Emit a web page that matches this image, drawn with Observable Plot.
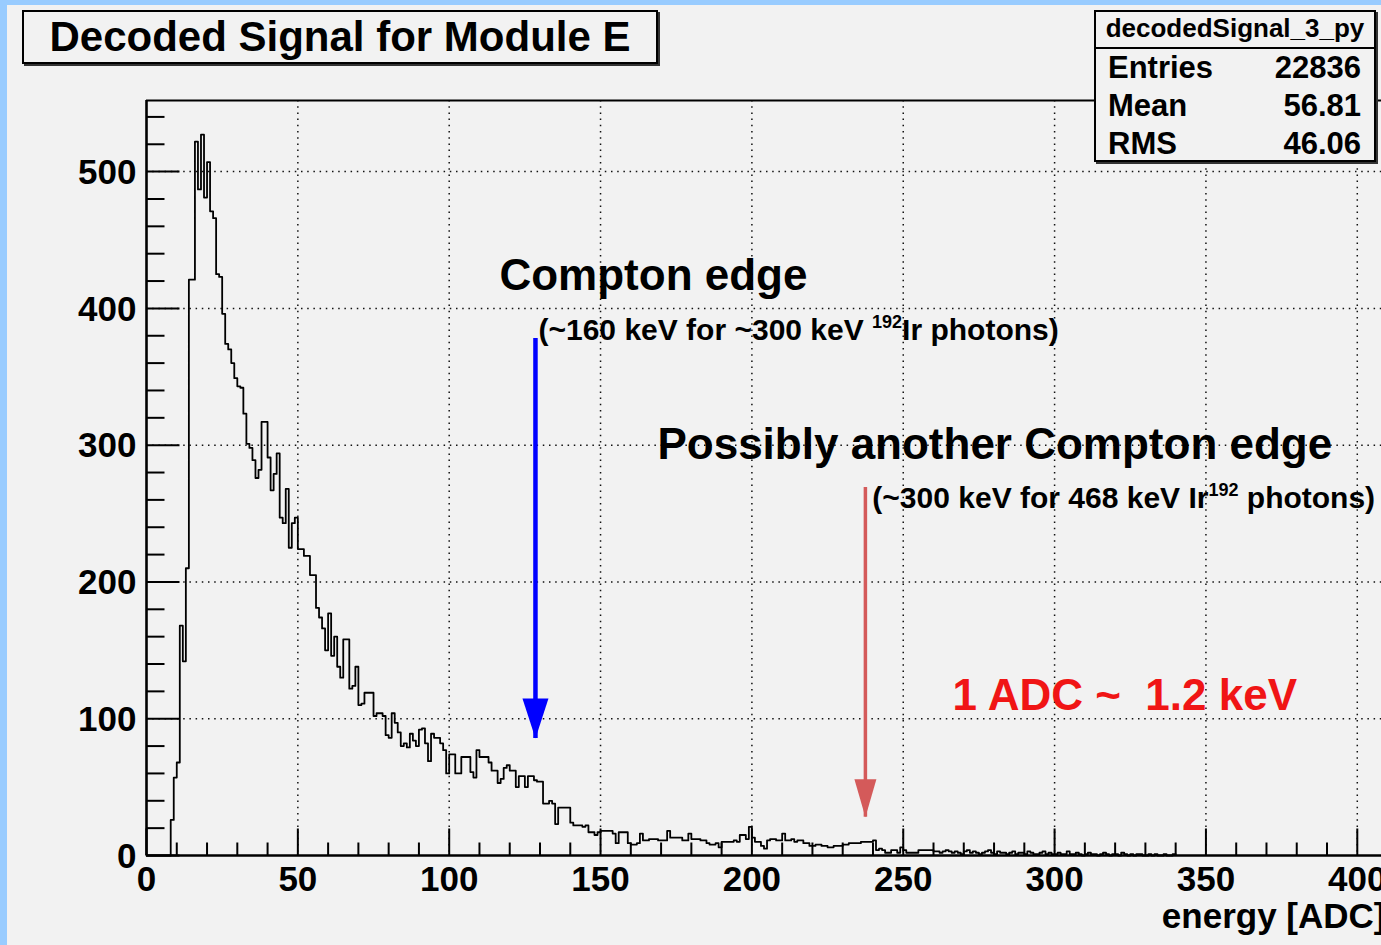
<!DOCTYPE html>
<html>
<head>
<meta charset="utf-8">
<script src="https://cdn.jsdelivr.net/npm/d3@7"></script>
<script src="https://cdn.jsdelivr.net/npm/@observablehq/plot@0.6"></script>
<style>
html, body { margin: 0; padding: 0; width: 1381px; height: 945px; overflow: hidden; background: #99ccff; }
#canvas { position: absolute; left: 7px; top: 5px; right: 0; bottom: 0; background: #f2f2f2; }
#chart { position: absolute; left: 0; top: 0; }
.box { position: absolute; border: 2px solid #000; background: #f2f2f2; box-shadow: 2px 2px 0 #333;
  font-family: "Liberation Sans", Arial, Helvetica, sans-serif; font-weight: bold; color: #000; box-sizing: border-box; }
#title { left: 22px; top: 10px; width: 636px; height: 54px; font-size: 42px; line-height: 49px; text-align: center; }
#stats { left: 1094px; top: 10px; width: 282px; height: 152px; }
#stats .hdr { height: 35px; line-height: 33px; border-bottom: 2px solid #000; font-size: 26px; text-align: center; }
#stats .row { height: 38px; line-height: 38px; font-size: 31px; display: flex; justify-content: space-between; padding: 0 13px 0 12px; }
</style>
</head>
<body>
<div id="canvas"></div>
<div id="chart"></div>
<div id="title" class="box"></div>
<div id="stats" class="box"></div>
<script>
// ---------------- data ----------------
const histTitle = "Decoded Signal for Module E";
const histName = "decodedSignal_3_py";
const statLabels = ["Entries", "Mean", "RMS"];
const statValues = ["22836", "56.81", "46.06"];
const xTitle = "energy [ADC]";

// counts per 1-ADC bin, starting at bin 0
const counts = [
  0,0,0,0,0,0,0,0,
  26,57,68,168,142,210,421,421,522,487,
  527,481,507,471,466,425,423,396,374,370,
  360,349,343,342,323,301,298,289,276,282,
  317,317,291,267,279,294,247,243,268,225,
  243,247,224,224,219,219,205,205,181,174,
  166,150,177,146,160,138,130,158,158,122,
  124,138,110,111,119,119,119,102,104,104,
  102,88,86,104,97,90,80,82,79,89,
  84,80,92,93,82,69,89,86,86,82,
  77,60,74,74,60,60,72,72,72,61,
  57,77,72,72,72,68,62,62,53,56,
  64,66,62,62,50,58,58,50,58,58,
  55,54,54,38,38,40,38,23,35,35,
  35,35,24,22,22,22,21,22,17,17,
  15,17,18,18,18,18,16,9,17,17,
  17,9,8,8,9,16,11,11,12,12,
  12,11,11,11,18,13,13,13,13,11,
  11,16,12,12,12,11,11,9,8,8,
  9,6,10,10,10,10,11,10,15,15,
  12,21,13,10,10,7,5,11,12,12,
  11,11,16,11,11,12,10,11,11,9,
  9,7,7,8,8,7,7,6,6,7,
  7,7,8,8,9,9,9,9,10,10,
  10,10,11,4,5,4,2,2,4,4,
  2,6,4,2,2,2,2,4,4,4,
  4,4,3,3,2,3,4,3,2,3,
  2,1,3,4,2,3,2,1,2,3,
  4,2,1,3,2,2,1,2,3,1,
  2,2,1,3,2,1,1,2,3,1,
  2,1,1,2,1,1,3,1,1,2,
  1,0,1,2,1,1,0,1,2,1,
  0,1,1,0,2,1,0,1,0,1,
  1,0,0,1,0,1,0,0,1,0,
  0,1
];

const xMajor = [0, 50, 100, 150, 200, 250, 300, 350, 400];
const yMajor = [0, 100, 200, 300, 400, 500];
const xDomain = [0, 408];
const yDomain = [0, 552];

// annotated Compton edges (ADC) with arrow extent (counts)
const edges = [
  {x: 128.5, top: 378, tip: 85.5},
  {x: 237.5, top: 269, tip: 28}
];
const labelCompton = "Compton edge";
const labelCompton1 = "(~160 keV for ~300 keV ^{192}Ir photons)";
const labelCompton2 = "Possibly another Compton edge";
const labelCompton2b = "(~300 keV for 468 keV Ir^{192} photons)";
const labelCal = "1 ADC ~  1.2 keV";

// ---------------- build ----------------
const FONT = '"Liberation Sans", Arial, Helvetica, sans-serif';
document.getElementById("title").textContent = histTitle;
const stats = document.getElementById("stats");
const hdr = document.createElement("div"); hdr.className = "hdr"; hdr.textContent = histName; stats.appendChild(hdr);
statLabels.forEach((l, i) => {
  const r = document.createElement("div"); r.className = "row";
  const a = document.createElement("span"); a.textContent = l;
  const b = document.createElement("span"); b.textContent = statValues[i];
  r.append(a, b); stats.appendChild(r);
});

const steps = counts.map((c, i) => ({x: i, y: c}));
steps.push({x: counts.length, y: counts[counts.length - 1]});

const xMinor = d3.range(0, 408, 10).filter(d => d % 50 !== 0);
const yMinor = d3.range(0, 552, 20).filter(d => d % 100 !== 0);

const seg = (dx, dy) => ({draw(ctx) { ctx.moveTo(0, 0); ctx.lineTo(dx, dy); }});
const headDown = (w, h) => ({draw(ctx) { ctx.moveTo(-w / 2, -h); ctx.lineTo(w / 2, -h); ctx.lineTo(0, 0); ctx.closePath(); }});

const grid = {stroke: "#111", strokeWidth: 1.5, strokeDasharray: "1.5 4.7"};
const bold = {fontWeight: "bold", fill: "#000"};

const plot = Plot.plot({
  width: 1381, height: 945,
  marginLeft: 146, marginRight: 0, marginTop: 100, marginBottom: 90,
  x: {domain: xDomain, axis: null},
  y: {domain: yDomain, axis: null},
  style: {background: "transparent", fontFamily: FONT, overflow: "visible"},
  marks: [
    Plot.ruleX(xMajor.filter(d => d > 0), grid),
    Plot.ruleY(yMajor.filter(d => d > 0), grid),
    // annotations
    Plot.text([labelCompton], {x: () => 116.6, y: () => 424, text: d => d, textAnchor: "start", fontSize: 44, ...bold}),
    Plot.text([labelCompton1], {x: () => 129.5, y: () => 384, text: d => d, textAnchor: "start", fontSize: 30, ...bold}),
    Plot.text([labelCompton2], {x: () => 168.8, y: () => 300, text: d => d, textAnchor: "start", fontSize: 44, ...bold}),
    Plot.text([labelCompton2b], {x: () => 239.8, y: () => 261, text: d => d, textAnchor: "start", fontSize: 30, ...bold}),
    Plot.text([labelCal], {x: () => 266.3, y: () => 117, text: d => d, textAnchor: "start", fontSize: 44, fontWeight: "bold", fill: "#f01515"}),
    // histogram
    Plot.line(steps, {x: "x", y: "y", curve: "step-after", stroke: "#000", strokeWidth: 1.8}),
    // arrows
    Plot.ruleX([edges[0]], {x: "x", y1: "top", y2: "tip", stroke: "#0000ff", strokeWidth: 4.5}),
    Plot.dot([edges[0]], {x: "x", y: "tip", symbol: headDown(26, 40), fill: "#0000ff", stroke: "none"}),
    Plot.ruleX([edges[1]], {x: "x", y1: "top", y2: "tip", stroke: "#d45a5a", strokeWidth: 3.5}),
    Plot.dot([edges[1]], {x: "x", y: "tip", symbol: headDown(22, 38), fill: "#d45a5a", stroke: "none"}),
    // frame
    Plot.ruleY([yDomain[1]], {stroke: "#000", strokeWidth: 2}),
    Plot.ruleX([0], {stroke: "#000", strokeWidth: 2.6}),
    Plot.ruleY([0], {stroke: "#000", strokeWidth: 2.6}),
    // ticks (inside)
    Plot.dot(yMajor, {x: () => 0, y: d => d, symbol: seg(33, 0), fill: "none", stroke: "#000", strokeWidth: 2}),
    Plot.dot(yMinor, {x: () => 0, y: d => d, symbol: seg(18, 0), fill: "none", stroke: "#000", strokeWidth: 2}),
    Plot.dot(xMajor, {x: d => d, y: () => 0, symbol: seg(0, -27), fill: "none", stroke: "#000", strokeWidth: 2}),
    Plot.dot(xMinor, {x: d => d, y: () => 0, symbol: seg(0, -13), fill: "none", stroke: "#000", strokeWidth: 2}),
    // tick labels
    Plot.text(yMajor, {x: () => 0, y: d => d, text: d => String(d), textAnchor: "end", dx: -10, dy: 1, fontSize: 35, ...bold}),
    Plot.text(xMajor, {x: d => d, y: () => 0, text: d => String(d), dy: 24, fontSize: 35, ...bold}),
    Plot.text([xTitle], {frameAnchor: "bottom-right", text: d => d, textAnchor: "end", dx: 4, dy: 72, fontSize: 35, ...bold})
  ]
});

// superscripts
const NS = "http://www.w3.org/2000/svg";
plot.querySelectorAll("text").forEach(t => {
  const m = t.textContent.match(/^(.*)\^\{(.*)\}(.*)$/);
  if (!m) return;
  t.textContent = "";
  const a = document.createElementNS(NS, "tspan"); a.textContent = m[1];
  const b = document.createElementNS(NS, "tspan"); b.textContent = m[2];
  b.setAttribute("font-size", "18"); b.setAttribute("dy", "-12");
  const c = document.createElementNS(NS, "tspan"); c.textContent = m[3]; c.setAttribute("dy", "12");
  t.append(a, b, c);
});

document.getElementById("chart").appendChild(plot);
</script>
</body>
</html>
